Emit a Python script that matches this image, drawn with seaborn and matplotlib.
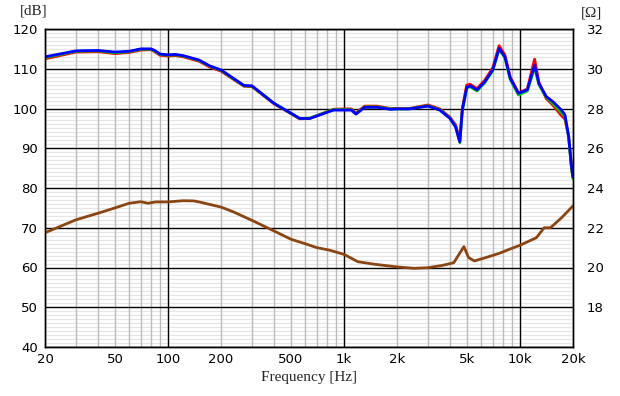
import numpy as np
import pandas as pd
import matplotlib
matplotlib.use("Agg")
import matplotlib.pyplot as plt
import seaborn as sns
from matplotlib.ticker import FixedLocator, FuncFormatter

# ---------------- data ----------------
spl_freq = [20, 30, 40, 50, 60, 70, 80, 84, 90, 100, 110, 122, 150, 173, 200,
            270, 300, 400, 500, 560, 640, 730, 870, 1000, 1100, 1170, 1310,
            1540, 1830, 2000, 2350, 3000, 3500, 4000, 4300, 4550, 4700, 4980,
            5200, 5700, 6300, 7000, 7600, 8200, 8800, 9800, 11000, 12100,
            12800, 14100, 15400, 17200, 18000, 18900, 19600, 20000]
spl_blue = [113.0, 114.5, 114.6, 114.2, 114.4, 115.0, 115.0, 114.6, 113.7, 113.5,
            113.6, 113.3, 112.2, 110.7, 109.7, 105.8, 105.7, 101.3, 98.8, 97.5,
            97.5, 98.4, 99.6, 99.6, 99.6, 98.6, 100.3, 100.3, 99.8, 99.9, 99.9,
            100.6, 99.6, 97.5, 95.4, 91.6, 99.6, 105.3, 105.7, 104.7, 106.7,
            109.7, 115.1, 113.0, 107.6, 103.8, 104.7, 110.9, 106.3, 103.0, 101.7,
            99.6, 98.4, 92.9, 85.4, 82.8]
spl_red = [112.5, 114.2, 114.3, 113.8, 114.1, 114.7, 114.8, 114.3, 113.4, 113.2,
           113.3, 113.0, 111.9, 110.4, 109.4, 105.6, 105.5, 101.2, 98.7, 97.4,
           97.5, 98.5, 99.8, 99.9, 99.9, 98.9, 100.6, 100.6, 100.0, 100.0, 100.0,
           100.9, 99.9, 97.8, 95.9, 92.2, 100.0, 105.9, 106.1, 105.0, 107.1,
           110.2, 115.8, 113.5, 107.9, 103.9, 104.9, 112.4, 106.6, 102.5, 100.8,
           98.2, 97.3, 93.0, 85.2, 82.5]
spl_green = [112.8, 114.4, 114.5, 114.0, 114.3, 114.9, 114.9, 114.5, 113.6, 113.4,
             113.5, 113.2, 112.1, 110.6, 109.6, 105.7, 105.6, 101.3, 98.8, 97.5,
             97.6, 98.5, 99.7, 99.7, 99.7, 98.7, 100.4, 100.4, 99.9, 99.9, 99.9,
             100.7, 99.7, 97.6, 95.5, 91.4, 99.5, 105.1, 105.5, 104.4, 106.5,
             109.5, 114.9, 112.8, 107.3, 103.4, 104.4, 110.3, 106.0, 102.8, 101.2,
             98.9, 97.9, 92.7, 85.0, 82.3]

imp_freq = [20, 30, 40, 50, 60, 70, 77, 85, 100, 122, 140, 150, 200, 235, 300,
            400, 500, 600, 700, 830, 1000, 1200, 1500, 2000, 2500, 3000, 3600,
            4200, 4500, 4800, 5100, 5500, 6400, 7600, 8900, 10000, 12400, 13700,
            14900, 17200, 20000]
imp_ohm = [21.75, 22.4, 22.73, 23.0, 23.23, 23.31, 23.23, 23.3, 23.3, 23.36,
           23.35, 23.3, 23.04, 22.8, 22.37, 21.84, 21.42, 21.2, 21.0, 20.87,
           20.66, 20.29, 20.16, 20.03, 19.96, 19.99, 20.1, 20.24, 20.66, 21.05,
           20.5, 20.33, 20.5, 20.71, 20.95, 21.12, 21.5, 22.0, 22.0, 22.5, 23.1]

x_tick_labels = {20: "20", 50: "50", 100: "100", 200: "200", 500: "500",
                 1000: "1k", 2000: "2k", 5000: "5k", 10000: "10k", 20000: "20k"}
db_ticks = [40, 50, 60, 70, 80, 90, 100, 110, 120]
ohm_ticks = [18, 20, 22, 24, 26, 28, 30, 32]

# ---------------- style ----------------
sns.set_style("white")
plt.rcParams["font.family"] = ["DejaVu Sans"]

fig = plt.figure(figsize=(6.2, 3.96), dpi=100)
pos = [45 / 620, 49 / 396, 528 / 620, 318 / 396]

major_x = [100, 1000, 10000]
minor_x = [m * 10 ** e for e in range(1, 5) for m in range(2, 10)
           if 20 <= m * 10 ** e <= 20000]
minor_y = [v for v in range(40, 121) if v % 10]

# background axes: fine horizontal grid only
ax_bg = fig.add_axes(pos, zorder=0)
ax_bg.set_xlim(0, 1)
ax_bg.set_ylim(40, 120)
ax_bg.yaxis.set_major_locator(FixedLocator(minor_y))
ax_bg.xaxis.set_major_locator(FixedLocator([]))
ax_bg.grid(axis="y", color="#e6e6e6", linewidth=0.9)
ax_bg.tick_params(which="both", length=0, labelbottom=False, labelleft=False)
for s in ax_bg.spines.values():
    s.set_visible(False)

# main axes: gray/black vertical grid, black horizontal grid, SPL curves
ax = fig.add_axes(pos, zorder=1)
ax.patch.set_alpha(0)
ax2 = ax.twinx()

df_spl = pd.DataFrame({"f": spl_freq, "red": spl_red, "green": spl_green, "blue": spl_blue})
for col, c in [("red", "#ff0000"), ("green", "#00d000"), ("blue", "#0000ff")]:
    sns.lineplot(data=df_spl, x="f", y=col, ax=ax, color=c, linewidth=2.0,
                 estimator=None, sort=False)

df_imp = pd.DataFrame({"f": imp_freq, "ohm": imp_ohm})
sns.lineplot(data=df_imp, x="f", y="ohm", ax=ax2, color="#8b4513", linewidth=2.0,
             estimator=None, sort=False)

ax.set_xscale("log")
ax.set_xlim(20, 20000)
ax.set_ylim(40, 120)
ax2.set_ylim(16, 32)

ax.xaxis.set_major_locator(FixedLocator(major_x))
ax.xaxis.set_minor_locator(FixedLocator(minor_x))
fmt = FuncFormatter(lambda v, p: x_tick_labels.get(int(round(v)), ""))
ax.xaxis.set_major_formatter(fmt)
ax.xaxis.set_minor_formatter(fmt)

ax.yaxis.set_major_locator(FixedLocator(db_ticks))
ax.yaxis.set_minor_locator(FixedLocator([]))
ax.set_yticklabels([str(v) for v in db_ticks])

ax2.yaxis.set_major_locator(FixedLocator(ohm_ticks))
ax2.set_yticklabels([str(v) for v in ohm_ticks])

ax.grid(which="major", axis="both", color="black", linewidth=1.0)
ax.grid(which="minor", axis="x", color="#bdbdbd", linewidth=1.0)
ax.set_axisbelow(True)

for a in (ax, ax2):
    a.tick_params(which="both", length=0, labelsize=9.5, colors="black")
    for s in a.spines.values():
        s.set_color("black")
        s.set_linewidth(1.0)
ax.tick_params(axis="x", which="both", pad=4)
ax.tick_params(axis="y", pad=5)
ax2.tick_params(axis="y", pad=10)

ax.set_xlabel("Frequency [Hz]", fontfamily="Liberation Serif", fontsize=11, labelpad=4)
ax.set_ylabel("")
ax2.set_ylabel("")
fig.text(20 / 620, 1 - 11 / 396, "[dB]", fontfamily="Liberation Serif", fontsize=11,
         ha="left", va="center")
fig.text(581 / 620, 1 - 13 / 396, "[Ω]", fontfamily="Liberation Serif", fontsize=11,
         ha="left", va="center")

fig.savefig("out.png", dpi=100, facecolor="white")
